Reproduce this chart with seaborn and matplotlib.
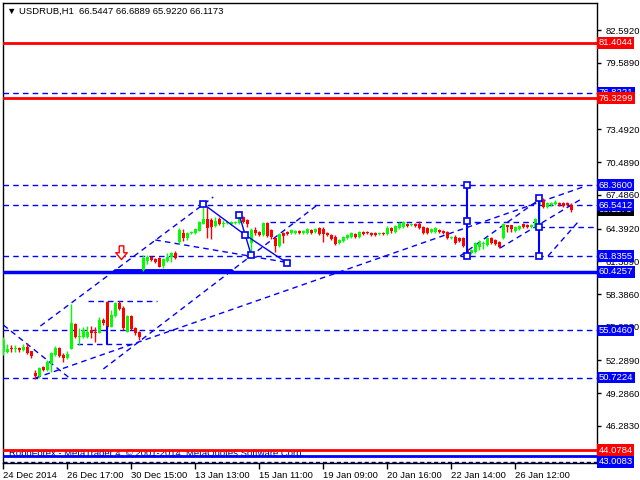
import matplotlib
matplotlib.use("Agg")
import matplotlib.pyplot as plt
from matplotlib.path import Path
import seaborn as sns
import numpy as np

# ── DATA (USDRUB H1) ──────────────────────────────────────────────────────────
opens = [53.07, 53.07, 53.43, 53.34, 53.43, 53.25, 53.53, 53.16, 51.14, 50.87,
         51.69, 51.42, 52.06, 52.79, 53.43, 52.79, 52.52, 53.34, 55.64, 54.44,
         54.44, 54.44, 55.08, 54.90, 54.81, 56.00, 57.65, 55.36, 56.37, 57.56,
         57.10, 54.90, 56.37, 55.27, 54.90, 60.59, 61.41, 61.78, 61.59, 61.69,
         60.95, 61.41, 61.78, 62.14, 63.15, 63.98, 63.52, 63.98, 63.98, 64.16,
         64.80, 65.26, 65.17, 64.62, 65.26, 64.80, 64.89, 64.80, 64.89, 64.89,
         65.45, 65.17, 63.06, 64.25, 64.07, 63.80, 64.89, 64.25, 63.52, 62.79,
         63.98, 64.07, 63.98, 63.98, 64.16, 63.98, 63.98, 64.25, 64.07, 64.44,
         64.35, 63.98, 63.80, 63.61, 63.06, 63.24, 63.52, 63.61, 63.89, 63.61,
         64.07, 64.07, 63.98, 63.98, 63.89, 63.98, 63.89, 64.44, 64.07, 64.44,
         64.53, 64.80, 64.71, 64.80, 64.80, 64.53, 64.44, 64.07, 64.07, 64.25,
         64.16, 64.07, 63.52, 63.61, 63.52, 63.52, 62.51, 62.14, 62.24, 62.69,
         62.97, 62.88, 63.52, 63.34, 63.15, 63.52, 64.71, 64.71, 64.16, 64.35,
         64.80, 64.71, 64.53, 64.53, 66.54, 67.01, 66.36, 66.54, 66.64, 66.73,
         66.73, 66.73, 66.5447]
closes = [54.17, 53.34, 53.34, 53.43, 53.25, 53.53, 52.98, 52.70, 50.87, 51.60,
          51.42, 52.15, 52.98, 53.43, 52.70, 52.52, 52.88, 55.73, 54.44, 54.54,
          55.08, 54.90, 54.81, 54.81, 56.00, 55.73, 55.36, 56.46, 57.56, 57.01,
          55.27, 56.37, 55.18, 54.81, 54.44, 61.69, 61.78, 61.50, 61.32, 60.86,
          61.59, 61.78, 62.14, 61.69, 64.25, 63.52, 63.98, 64.07, 64.35, 64.99,
          65.26, 64.44, 64.53, 65.08, 64.80, 64.89, 64.94, 64.99, 64.99, 65.45,
          64.99, 64.80, 64.25, 63.98, 63.80, 64.89, 63.70, 63.61, 62.79, 63.89,
          63.70, 63.89, 64.25, 64.16, 63.98, 64.16, 64.35, 63.98, 64.35, 63.89,
          63.89, 63.80, 63.43, 62.97, 63.34, 63.61, 63.80, 63.98, 63.61, 64.07,
          63.89, 63.98, 63.80, 63.80, 63.98, 63.89, 64.44, 64.16, 64.62, 64.89,
          64.99, 64.62, 64.80, 64.62, 64.44, 63.98, 63.98, 64.35, 64.44, 64.07,
          63.98, 63.52, 63.61, 63.06, 63.24, 62.79, 62.14, 62.42, 63.06, 63.06,
          63.06, 63.52, 63.06, 62.97, 62.69, 64.80, 64.53, 64.35, 64.53, 64.62,
          64.53, 64.53, 64.71, 65.26, 67.10, 66.36, 66.73, 66.73, 66.82, 66.54,
          66.45, 66.54, 66.1173]
highs = [54.44, 53.80, 53.71, 53.71, 53.53, 53.80, 53.89, 53.16, 51.42, 51.69,
         51.78, 52.33, 53.07, 53.62, 53.53, 52.98, 53.16, 57.47, 55.73, 55.27,
         55.36, 55.45, 55.45, 55.36, 56.28, 56.19, 57.74, 56.92, 57.65, 57.74,
         57.29, 56.46, 56.46, 55.36, 54.99, 61.96, 61.96, 61.87, 61.69, 61.78,
         61.69, 62.14, 62.24, 62.33, 64.44, 64.35, 64.07, 64.16, 64.44, 65.08,
         66.64, 66.36, 65.35, 65.45, 65.45, 65.17, 64.99, 65.08, 65.08, 65.63,
         65.54, 65.26, 64.44, 64.53, 64.16, 64.99, 64.99, 64.35, 63.61, 63.98,
         64.07, 64.16, 64.35, 64.25, 64.25, 64.25, 64.44, 64.35, 64.44, 64.53,
         64.53, 64.07, 63.89, 63.80, 63.43, 63.70, 63.89, 64.07, 63.98, 64.16,
         64.16, 64.16, 64.07, 64.07, 64.07, 64.07, 64.62, 64.53, 64.71, 64.99,
         65.08, 64.89, 64.89, 64.89, 65.08, 64.62, 64.53, 64.44, 64.53, 64.35,
         64.25, 64.16, 63.70, 63.80, 63.61, 63.61, 62.60, 62.51, 63.15, 63.34,
         63.24, 63.61, 63.61, 63.43, 63.24, 64.89, 64.71, 64.71, 64.62, 64.71,
         64.89, 64.80, 64.80, 65.35, 67.28, 67.19, 66.82, 66.82, 67.01, 66.82,
         66.82, 66.82, 66.6889]
lows = [52.79, 52.98, 53.07, 53.07, 53.07, 53.16, 52.88, 52.52, 50.55, 50.68,
        51.32, 51.32, 51.23, 52.70, 52.61, 52.15, 52.43, 53.34, 54.35, 53.71,
        54.35, 54.35, 54.35, 53.99, 54.81, 55.54, 55.27, 55.36, 56.28, 56.92,
        55.08, 54.90, 55.08, 54.63, 54.17, 60.49, 61.14, 61.41, 61.23, 60.86,
        60.77, 61.32, 61.32, 61.59, 62.97, 63.24, 63.34, 63.89, 63.89, 64.16,
        64.80, 63.52, 63.43, 64.53, 64.71, 64.53, 64.80, 64.71, 64.80, 64.80,
        64.89, 64.53, 61.87, 63.80, 63.70, 63.70, 63.61, 63.43, 62.24, 62.69,
        63.06, 63.80, 63.89, 63.89, 63.89, 63.89, 63.89, 63.89, 63.98, 63.80,
        63.15, 63.70, 63.34, 62.88, 62.97, 63.15, 63.43, 63.52, 63.52, 63.52,
        63.80, 63.89, 63.70, 63.70, 63.80, 63.80, 63.80, 63.98, 63.98, 64.35,
        64.44, 64.53, 64.62, 64.53, 64.35, 63.89, 63.89, 63.98, 63.98, 63.98,
        63.89, 63.43, 63.43, 62.97, 63.15, 62.69, 62.05, 62.05, 62.14, 62.42,
        62.51, 62.79, 62.97, 62.88, 62.60, 63.43, 64.07, 64.07, 64.07, 64.25,
        64.44, 64.44, 64.44, 64.44, 64.62, 66.27, 66.27, 66.45, 66.54, 66.45,
        66.36, 66.45, 65.9220]

date_labels = ["24 Dec 2014", "26 Dec 17:00", "30 Dec 15:00", "13 Jan 13:00",
               "15 Jan 11:00", "19 Jan 09:00", "20 Jan 16:00", "22 Jan 14:00",
               "26 Jan 12:00"]
date_bars = [0, 16, 32, 48, 64, 80, 96, 112, 128]

price_ticks = [82.592, 79.589, 73.492, 70.489, 67.486, 64.392,
               61.389, 58.386, 55.383, 52.289, 49.286, 46.283]

red_levels = [81.4044, 76.3299, 44.0784]
blue_dash_levels = [76.8221, 68.3600, 66.5412, 61.8355, 55.0460, 50.7224]
support_level = 60.4257
bottom_level = 43.0083

# trend lines drawn by the analyst (bar index, price)
trend_lines = [
    ((9.25, 55.45), (52.5, 67.28)),
    ((0, 55.54), (16.25, 50.77)),
    ((8, 50.68), (145, 68.20)),
    ((25, 51.51), (78.5, 66.54)),
    ((38, 63.34), (71.75, 61.23)),
    ((114.25, 61.87), (134.25, 67.10)),
    ((124.25, 62.60), (145, 67.19)),
    ((136.25, 61.87), (143.75, 64.99)),
]
short_levels = [  # (price, from bar, to bar)
    (64.99, 66.75, 133),
    (64.53, 134, 149),
    (57.72, 21.25, 38.5),
    (53.80, 18.5, 32.5),
]
pattern_lines = [
    ((50, 66.64), (60.5, 63.80)),
    ((60.5, 63.80), (71, 61.23)),
    ((59, 65.63), (62, 61.96)),
]
pattern_points = [(50, 66.64), (59, 65.63), (60.5, 63.80), (62, 61.96), (71, 61.23),
                  (116, 68.36), (116, 65.08), (116, 61.87),
                  (134, 67.19), (134, 64.53), (134, 61.87)]
vertical_lines = [(26, 55.36, 53.80), (116, 68.36, 61.87), (134, 67.19, 61.87)]

# ── STYLE ─────────────────────────────────────────────────────────────────────
sns.set_theme(style="white")
plt.rcParams["font.family"] = ["Liberation Sans", "DejaVu Sans"]
BLUE = "#0000FF"
RED = "#FF0000"
GREEN = "#00FF00"
DASH = (0, (4, 3))

fig = plt.figure(figsize=(6.4, 4.8), dpi=100)
ax = fig.add_axes([3 / 640, 1 - 463 / 480, 594 / 640, 460 / 480])

n = len(opens)
x = np.arange(n)
o = np.array(opens); c = np.array(closes)
cols = np.where(c >= o, GREEN, RED)

# candles
ax.vlines(x, lows, highs, colors=cols, lw=1, zorder=4)
body_h = np.maximum(np.abs(c - o), 0.06)
ax.bar(x, body_h, bottom=np.minimum(o, c), width=0.75, color=cols, linewidth=0, zorder=5)

# levels
for p in red_levels:
    ax.axhline(p, color=RED, lw=2, zorder=3)
for p in blue_dash_levels:
    ax.axhline(p, color=BLUE, lw=1, ls=DASH, zorder=3)
ax.axhline(support_level, color=BLUE, lw=2.5, zorder=3)
ax.plot([28, 57], [60.50, 60.50], color=BLUE, lw=3.5, zorder=3)
ax.axhline(43.55, color=BLUE, lw=2, zorder=3)
ax.axhline(bottom_level, color="#000080", lw=1, ls=(0, (3, 2)), zorder=3)

for (x0, y0), (x1, y1) in trend_lines:
    ax.plot([x0, x1], [y0, y1], color=BLUE, lw=1, ls=DASH, zorder=3)
for p, b0, b1 in short_levels:
    ax.plot([b0, b1], [p, p], color=BLUE, lw=1, ls=DASH, zorder=3)
for (x0, y0), (x1, y1) in pattern_lines:
    ax.plot([x0, x1], [y0, y1], color=BLUE, lw=1, zorder=6)
for xb, y0, y1 in vertical_lines:
    ax.plot([xb, xb], [y0, y1], color=BLUE, lw=1.5, zorder=6)
px, py = zip(*pattern_points)
ax.plot(px, py, ls="none", marker="s", ms=5, mfc="white", mec=BLUE, mew=1.2, zorder=7)

# hollow sell arrow
arrow = Path([(-0.3, 1), (0.3, 1), (0.3, 0.1), (0.75, 0.1), (0, -0.8),
              (-0.75, 0.1), (-0.3, 0.1), (-0.3, 1)])
ax.plot([29.5], [62.15], marker=arrow, ms=11, mfc="white", mec=RED, mew=1, ls="none", zorder=7)

ax.set_xlim(-0.1, 148.5)
ax.set_ylim(42.89, 85.07)

# axes look (MT4 style)
for s in ax.spines.values():
    s.set_color("black"); s.set_linewidth(1)
ax.yaxis.tick_right()
ax.set_yticks(price_ticks)
ax.set_yticklabels([f"{t:.4f}" for t in price_ticks])
ax.tick_params(axis="y", direction="out", length=3, width=1, pad=3, labelsize=6.8,
               colors="black", right=True, left=False)
ax.set_xticks(date_bars)
ax.set_xticklabels(date_labels, ha="left")
ax.tick_params(axis="x", direction="out", length=4, width=1, pad=2, labelsize=6.8,
               colors="black", bottom=True)
ax.grid(False)

# price boxes on the right scale
boxes = [(81.4044, RED), (76.8221, BLUE), (76.3299, RED), (68.3600, BLUE),
         (66.1173, "black"), (66.5412, BLUE), (61.8355, BLUE), (60.4257, BLUE),
         (55.0460, BLUE), (50.7224, BLUE), (44.0784, RED), (43.0083, BLUE)]
for p, fc in boxes:
    ax.text(1.003, p, f"{p:.4f}", transform=ax.get_yaxis_transform(), ha="left",
            va="center", fontsize=6.8, color="white", clip_on=False, zorder=10,
            bbox=dict(boxstyle="square,pad=0.15", fc=fc, ec="none"))

# header & footer text
ax.text(4 / 594, 1 - 8 / 460, "\u25BC USDRUB,H1  66.5447 66.6889 65.9220 66.1173",
        transform=ax.transAxes, fontsize=6.8, va="center", ha="left", color="black")
ax.text(6 / 594, 1 - 450 / 460, "RoboForex - MetaTrader 4, \u00A9 2001-2014, MetaQuotes Software Corp.",
        transform=ax.transAxes, fontsize=6.8, va="center", ha="left", color="#000050", zorder=1)

fig.savefig("out.png", dpi=100)
